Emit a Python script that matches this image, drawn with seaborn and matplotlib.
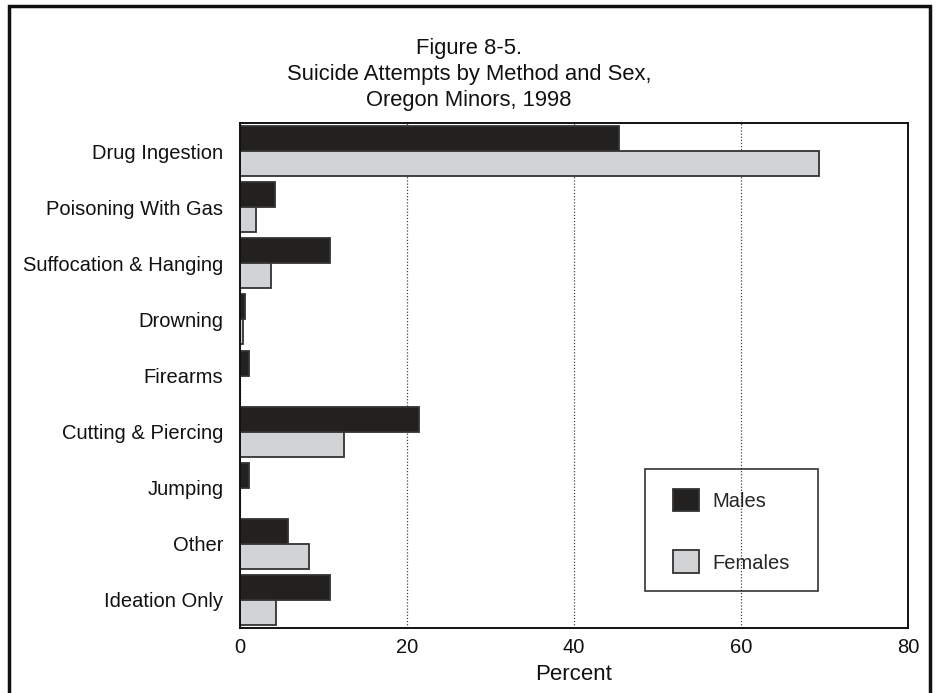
import pandas as pd
import seaborn as sns
import matplotlib.pyplot as plt
from matplotlib.patches import Rectangle

# data (percent)
methods = ["Drug Ingestion", "Poisoning With Gas", "Suffocation & Hanging", "Drowning",
           "Firearms", "Cutting & Piercing", "Jumping", "Other", "Ideation Only"]
males = [45.4, 4.2, 10.8, 0.55, 1.1, 21.4, 1.1, 5.7, 10.8]
females = [69.3, 1.95, 3.75, 0.3, 0.0, 12.5, 0.0, 8.3, 4.35]
sexes = ["Males", "Females"]
xticks = [0, 20, 40, 60, 80]

df = pd.DataFrame({
    "method": methods * 2,
    "percent": males + females,
    "sex": ["Males"] * len(methods) + ["Females"] * len(methods),
})

sns.set_style("white")
plt.rcParams["font.family"] = ["Liberation Sans", "DejaVu Sans"]

fig = plt.figure(figsize=(9.38, 6.93), dpi=100)
ax = fig.add_axes([0.2559, 0.0938, 0.7122, 0.7287])

sns.barplot(data=df, y="method", x="percent", hue="sex", hue_order=sexes,
            palette=["#231f20", "#d1d3d4"], width=0.89, edgecolor="#333333",
            linewidth=1.3, orient="h", ax=ax)

ax.set_xlim(0, 80)
ax.set_xticks(xticks)
ax.grid(axis="x", linestyle=(0, (1, 1.5)), color="#444444", linewidth=0.9)
ax.set_axisbelow(True)
ax.tick_params(axis="both", length=0, labelsize=14.5, colors="#111111")
ax.tick_params(axis="x", pad=7)
ax.tick_params(axis="y", pad=12)
ax.set_xlabel("Percent", fontsize=16, labelpad=5, color="#111111")
ax.set_ylabel("")
for s in ax.spines.values():
    s.set_color("#111111")
    s.set_linewidth(1.4)

# legend without its own frame, box drawn separately to get the padding right
leg = ax.legend(loc="upper left", bbox_to_anchor=(0.648, 0.276), fontsize=14.5,
                frameon=False, handlelength=1.3, handleheight=1.35,
                handletextpad=0.65, labelspacing=1.95, borderpad=0,
                borderaxespad=0)
ax.add_patch(Rectangle((0.6063, 0.0723), 0.259, 0.2426, transform=ax.transAxes,
                       fill=False, edgecolor="#333333", linewidth=1.2, zorder=5))

fig.text(0.5, 0.945, "Figure 8-5.\nSuicide Attempts by Method and Sex,\nOregon Minors, 1998",
         ha="center", va="top", fontsize=15.8, linespacing=1.3, color="#111111")

# outer frame of the page
fig.patches.append(Rectangle((9 / 938, -0.05), 921 / 938, 1.05 - 6 / 693,
                             transform=fig.transFigure, fill=False,
                             edgecolor="#111111", linewidth=2.5))

plt.savefig("out.png", dpi=100)
